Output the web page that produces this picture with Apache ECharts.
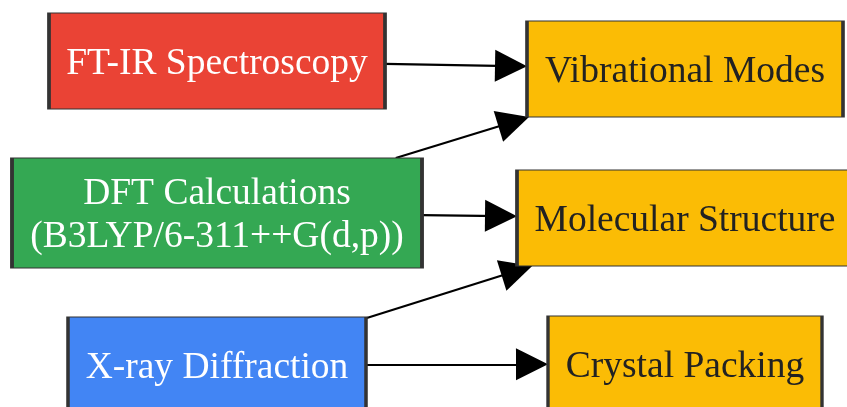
<!DOCTYPE html>
<html>
<head>
<meta charset="utf-8">
<script src="https://cdn.jsdelivr.net/npm/echarts@6/dist/echarts.min.js"></script>
<style>
  html, body { margin: 0; padding: 0; background: #fff; }
  #main { width: 847px; height: 407px; }
</style>
</head>
<body>
<div id="main"></div>
<script>
    // nodes: label, centre x / y, box width / height, fill
    var nodeNames = ['FT-IR Spectroscopy', 'DFT Calculations\n(B3LYP/6-311++G(d,p))', 'X-ray Diffraction',
                     'Vibrational Modes', 'Molecular Structure', 'Crystal Packing'];
    var nodeX = [217, 217, 217, 685, 685, 685];
    var nodeY = [61, 213, 365, 69, 218, 364];
    var nodeW = [336, 410, 298, 316, 336, 274];
    var nodeH = [96, 110, 96, 96, 96, 96];
    var nodeColors = ['#EA4335', '#34A853', '#4285F4', '#FBBC05', '#FBBC05', '#FBBC05'];
    var textColors = ['#ffffff', '#ffffff', '#ffffff', '#222222', '#222222', '#222222'];

    // edges: source index -> target index
    var edgeFrom = [0, 1, 1, 2, 2];
    var edgeTo = [3, 3, 4, 4, 5];

    var arrowLen = 32, arrowWidth = 22;

    // where the centre-to-centre line leaves a box
    function clip(i, dx, dy) {
        var hw = nodeW[i] / 2, hh = nodeH[i] / 2;
        var tx = dx !== 0 ? hw / Math.abs(dx) : Infinity;
        var ty = dy !== 0 ? hh / Math.abs(dy) : Infinity;
        var t = Math.min(tx, ty);
        return [dx * t, dy * t];
    }

    var edgeData = edgeFrom.map(function (s, k) {
        var t = edgeTo[k];
        var dx = nodeX[t] - nodeX[s], dy = nodeY[t] - nodeY[s];
        var len = Math.sqrt(dx * dx + dy * dy);
        var a = clip(s, dx, dy);
        var b = clip(t, -dx, -dy);
        // arrow symbol is centred on the line end, so pull the end back by half its length
        var ex = nodeX[t] + b[0] - dx / len * arrowLen / 2;
        var ey = nodeY[t] + b[1] - dy / len * arrowLen / 2;
        return { coords: [[nodeX[s] + a[0], nodeY[s] + a[1]], [ex, ey]] };
    });

    var nodeData = nodeNames.map(function (n, i) {
        return {
            name: n,
            value: [nodeX[i], nodeY[i]],
            symbolSize: [nodeW[i], nodeH[i]],
            itemStyle: { color: nodeColors[i] },
            label: { color: textColors[i] }
        };
    });

    var myChart = echarts.init(document.getElementById('main'));
    option = {
        animation: false,
        grid: { left: 0, right: 0, top: 0, bottom: 0 },
        xAxis: { type: 'value', min: 0, max: 847, show: false },
        yAxis: { type: 'value', min: 0, max: 407, inverse: true, show: false },
        series: [
            {
                type: 'lines',
                coordinateSystem: 'cartesian2d',
                symbol: ['none', 'triangle'],
                symbolSize: [arrowWidth, arrowLen],
                lineStyle: { color: '#000', width: 2.2, opacity: 1 },
                data: edgeData,
                z: 1
            },
            {
                type: 'scatter',
                symbol: 'rect',
                clip: false,
                itemStyle: { borderColor: '#333', borderWidth: 2, opacity: 1 },
                label: {
                    show: true,
                    position: 'inside',
                    formatter: '{b}',
                    fontFamily: 'Liberation Serif',
                    fontSize: 37.5,
                    lineHeight: 43,
                    offset: [0, 3]
                },
                data: nodeData,
                z: 2
            }
        ]
    };
    myChart.setOption(option);
</script>
</body>
</html>
